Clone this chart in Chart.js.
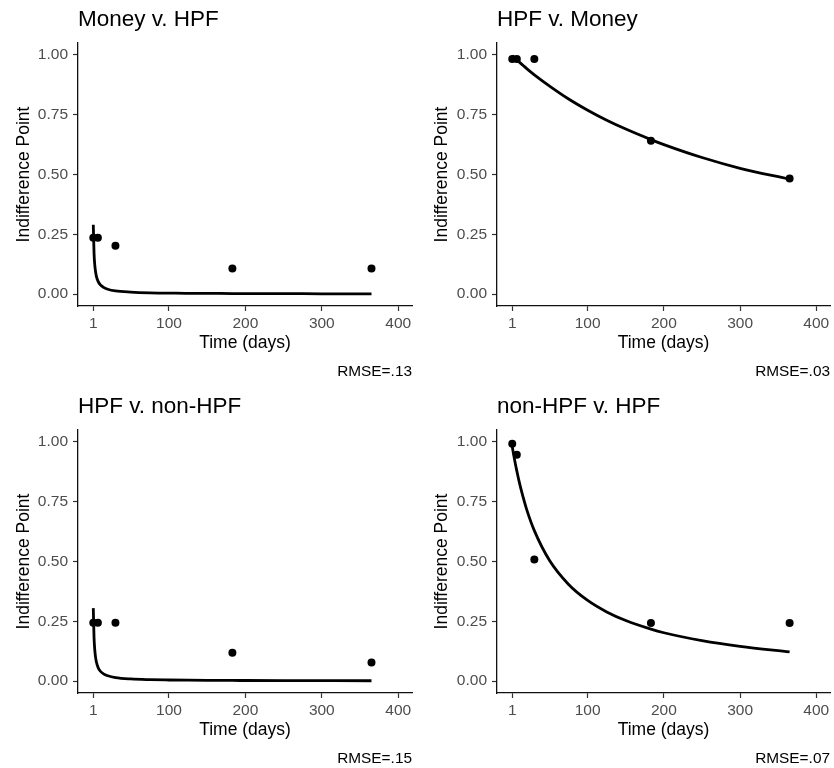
<!DOCTYPE html>
<html>
<head>
<meta charset="utf-8">
<script src="https://cdn.jsdelivr.net/npm/chart.js@4.4.1/dist/chart.umd.min.js"></script>
<style>
  body { margin: 0; background: #fff; }
  .wrap { position: relative; width: 834px; height: 768px; }
  canvas { position: absolute; }
</style>
</head>
<body>
<div class="wrap">
  <canvas id="c1" width="417" height="384" style="left:0;top:0"></canvas>
  <canvas id="c2" width="417" height="384" style="left:417px;top:0"></canvas>
  <canvas id="c3" width="417" height="381" style="left:0;top:387px"></canvas>
  <canvas id="c4" width="417" height="381" style="left:417px;top:387px"></canvas>
</div>
<script>
// delays (days) of the observed indifference points
const delays = [1, 7, 30, 183, 365];

const moneyHpfPoints = [0.235, 0.235, 0.202, 0.107, 0.107];
const hpfMoneyPoints = [0.983, 0.983, 0.983, 0.641, 0.483];
const hpfNonHpfPoints = [0.244, 0.244, 0.244, 0.118, 0.078];
const nonHpfHpfPoints = [0.993, 0.946, 0.508, 0.243, 0.243];

// fitted curve
const fitDays = [1, 2, 3, 4, 5, 7, 10, 15, 20, 30, 50, 75, 100, 125, 150, 183, 200, 250, 300, 365];
const moneyHpfFit = [0.290, 0.170, 0.120, 0.093, 0.075, 0.055, 0.039, 0.027, 0.020, 0.013, 0.008, 0.005, 0.004, 0.003, 0.003, 0.002, 0.002, 0.002, 0.001, 0.001];
const hpfMoneyFit = [0.997, 0.994, 0.991, 0.988, 0.985, 0.979, 0.971, 0.957, 0.943, 0.917, 0.870, 0.816, 0.769, 0.727, 0.690, 0.646, 0.625, 0.571, 0.526, 0.480];
const hpfNonHpfFit = [0.305, 0.181, 0.128, 0.099, 0.081, 0.059, 0.042, 0.029, 0.022, 0.0145, 0.0087, 0.0058, 0.0044, 0.0035, 0.0029, 0.0024, 0.0022, 0.0018, 0.0015, 0.0012];
const nonHpfHpfFit = [0.981, 0.962, 0.944, 0.927, 0.910, 0.879, 0.835, 0.772, 0.717, 0.629, 0.504, 0.404, 0.337, 0.289, 0.253, 0.217, 0.202, 0.169, 0.145, 0.122];

const xTicks = [1, 100, 200, 300, 400];
const yTicks = [0, 0.25, 0.5, 0.75, 1];

const FONT = '"Liberation Sans", Arial, Helvetica, sans-serif';

const makePanel = (id, title, rmse, points, fit, yWidth, rightPad, yTitlePad, subPadBottom) => {
  new Chart(document.getElementById(id), {
    type: 'scatter',
    data: {
      datasets: [
        {
          data: delays.map((d, i) => ({ x: d, y: points[i] })),
          backgroundColor: '#000',
          borderWidth: 0,
          pointRadius: 4,
          order: 0,
        },
        {
          data: fitDays.map((d, i) => ({ x: d, y: fit[i] })),
          showLine: true,
          borderColor: '#000',
          borderWidth: 2.8,
          pointRadius: 0,
          cubicInterpolationMode: 'monotone',
          fill: false,
          order: 1,
        },
      ],
    },
    options: {
      responsive: false,
      animation: false,
      layout: { padding: { left: 0, right: rightPad, top: 0, bottom: 0 } },
      plugins: {
        legend: { display: false },
        tooltip: { enabled: false },
        title: {
          display: true,
          text: title,
          align: 'start',
          fullSize: false,
          color: '#000',
          font: { family: FONT, size: 22.5, weight: 'normal' },
          padding: { top: 6.5, bottom: 9.5 },
        },
        subtitle: {
          display: true,
          text: rmse,
          position: 'bottom',
          align: 'end',
          fullSize: false,
          color: '#000',
          font: { family: FONT, size: 15.4, weight: 'normal' },
          padding: { top: 8.75, bottom: subPadBottom },
        },
      },
      scales: {
        x: {
          type: 'linear',
          min: -19,
          max: 418,
          afterBuildTicks: (s) => { s.ticks = xTicks.map((v) => ({ value: v })); },
          afterFit: (s) => { s.height = 48; },
          border: { color: '#111', width: 1.3 },
          grid: { drawOnChartArea: false, tickLength: 5, tickColor: '#333', tickWidth: 1.2 },
          ticks: { color: '#4d4d4d', font: { family: FONT, size: 15.5 }, padding: 3, maxRotation: 0, autoSkip: false },
          title: { display: true, text: 'Time (days)', color: '#000', font: { family: FONT, size: 17.5 }, padding: { top: 0, bottom: 0 } },
        },
        y: {
          type: 'linear',
          min: -0.05,
          max: 1.05,
          afterBuildTicks: (s) => { s.ticks = yTicks.map((v) => ({ value: v })); },
          afterFit: (s) => { s.width = yWidth; },
          border: { color: '#111', width: 1.3 },
          grid: { drawOnChartArea: false, tickLength: 5, tickColor: '#333', tickWidth: 1.2 },
          ticks: { color: '#4d4d4d', font: { family: FONT, size: 15.5 }, padding: 5, callback: (v) => v.toFixed(2) },
          title: { display: true, text: 'Indifference Point', color: '#000', font: { family: FONT, size: 17.5 }, padding: { top: yTitlePad, bottom: 0 } },
        },
      },
    },
  });
};

makePanel('c1', 'Money v. HPF', 'RMSE=.13', moneyHpfPoints, moneyHpfFit, 78, 5, 13.5, 2.77);
makePanel('c2', 'HPF v. Money', 'RMSE=.03', hpfMoneyPoints, hpfMoneyFit, 80, 3, 14.5, 2.77);
makePanel('c3', 'HPF v. non-HPF', 'RMSE=.15', hpfNonHpfPoints, hpfNonHpfFit, 78, 5, 13.5, -0.23);
makePanel('c4', 'non-HPF v. HPF', 'RMSE=.07', nonHpfHpfPoints, nonHpfHpfFit, 80, 3, 14.5, -0.23);
</script>
</body>
</html>
